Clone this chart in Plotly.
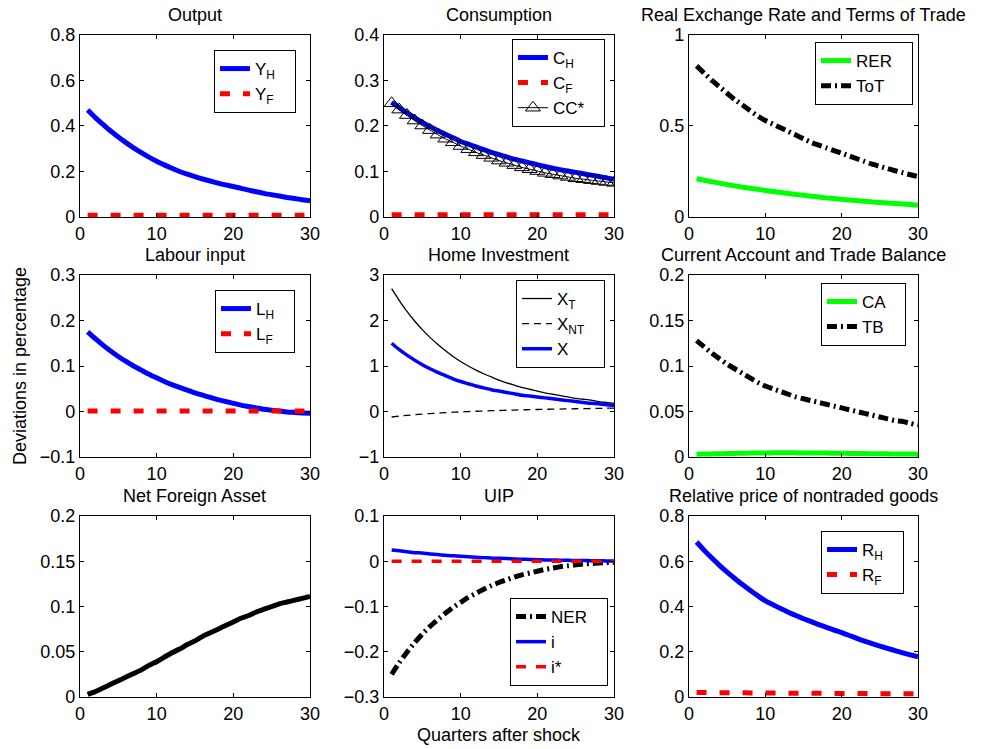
import plotly.graph_objects as go

quarters = list(range(1, 31))

# Output
y_home = [0.470, 0.437, 0.407, 0.378, 0.352, 0.327, 0.304, 0.283, 0.263, 0.245,
          0.229, 0.214, 0.200, 0.188, 0.177, 0.167, 0.158, 0.149, 0.141, 0.134,
          0.126, 0.118, 0.111, 0.104, 0.098, 0.092, 0.086, 0.081, 0.076, 0.071]
y_foreign = [0.008] * 30

# Consumption
c_home = [0.252, 0.240, 0.229, 0.218, 0.208, 0.199, 0.190, 0.182, 0.174, 0.166,
          0.160, 0.154, 0.148, 0.142, 0.137, 0.132, 0.127, 0.123, 0.119, 0.115,
          0.111, 0.107, 0.104, 0.101, 0.098, 0.095, 0.092, 0.089, 0.086, 0.083]
c_foreign = [0.005] * 30
cc_star = [0.250, 0.236, 0.224, 0.212, 0.201, 0.191, 0.181, 0.172, 0.164, 0.156,
           0.149, 0.142, 0.136, 0.130, 0.124, 0.119, 0.114, 0.109, 0.105, 0.101,
           0.097, 0.094, 0.091, 0.088, 0.085, 0.083, 0.081, 0.079, 0.077, 0.075]

# Real exchange rate and terms of trade
rer = [0.210, 0.202, 0.194, 0.186, 0.178, 0.171, 0.164, 0.158, 0.152, 0.146,
       0.140, 0.134, 0.129, 0.124, 0.119, 0.114, 0.110, 0.105, 0.101, 0.097,
       0.093, 0.090, 0.086, 0.083, 0.080, 0.077, 0.074, 0.071, 0.068, 0.065]
tot = [0.830, 0.790, 0.750, 0.715, 0.680, 0.645, 0.615, 0.585, 0.555, 0.530,
       0.510, 0.490, 0.470, 0.450, 0.430, 0.410, 0.395, 0.380, 0.365, 0.350,
       0.335, 0.320, 0.305, 0.290, 0.278, 0.266, 0.254, 0.243, 0.232, 0.222]

# Labour input
l_home = [0.175, 0.160, 0.146, 0.133, 0.121, 0.110, 0.100, 0.091, 0.082, 0.074,
          0.066, 0.059, 0.053, 0.047, 0.041, 0.036, 0.031, 0.026, 0.022, 0.018,
          0.014, 0.011, 0.008, 0.005, 0.003, 0.001, -0.001, -0.002, -0.003, -0.004]
l_foreign = [0.001] * 30

# Home investment
x_traded = [2.70, 2.44, 2.20, 1.99, 1.80, 1.63, 1.48, 1.34, 1.21, 1.10,
            1.00, 0.91, 0.83, 0.76, 0.69, 0.63, 0.58, 0.53, 0.49, 0.45,
            0.41, 0.38, 0.35, 0.32, 0.29, 0.27, 0.25, 0.22, 0.20, 0.18]
x_nontraded = [-0.120, -0.100, -0.085, -0.070, -0.055, -0.045, -0.035, -0.025, -0.015, -0.008,
               0.000, 0.006, 0.012, 0.018, 0.023, 0.028, 0.033, 0.037, 0.041, 0.045,
               0.049, 0.052, 0.055, 0.058, 0.061, 0.064, 0.067, 0.070, 0.073, 0.075]
x_total = [1.50, 1.36, 1.24, 1.13, 1.03, 0.94, 0.86, 0.79, 0.72, 0.66,
           0.61, 0.56, 0.52, 0.48, 0.45, 0.42, 0.39, 0.36, 0.34, 0.32,
           0.30, 0.28, 0.26, 0.24, 0.22, 0.20, 0.18, 0.17, 0.15, 0.14]

# Current account and trade balance
current_account = [0.0030, 0.0032, 0.0034, 0.0036, 0.0038, 0.0040, 0.0042, 0.0043, 0.0044, 0.0045,
                   0.0046, 0.0046, 0.0046, 0.0046, 0.0045, 0.0045, 0.0044, 0.0043, 0.0042, 0.0041,
                   0.0040, 0.0039, 0.0038, 0.0037, 0.0036, 0.0035, 0.0034, 0.0033, 0.0032, 0.0031]
trade_balance = [0.128, 0.121, 0.114, 0.108, 0.102, 0.097, 0.092, 0.087, 0.082, 0.078,
                 0.075, 0.072, 0.069, 0.066, 0.064, 0.062, 0.060, 0.058, 0.056, 0.054,
                 0.052, 0.050, 0.048, 0.046, 0.044, 0.042, 0.040, 0.039, 0.037, 0.035]

# Net foreign asset
nfa = [0.003, 0.006, 0.010, 0.014, 0.018, 0.022, 0.026, 0.030, 0.035, 0.039,
       0.044, 0.049, 0.053, 0.058, 0.062, 0.067, 0.071, 0.075, 0.079, 0.083,
       0.087, 0.090, 0.094, 0.097, 0.100, 0.103, 0.105, 0.107, 0.109, 0.111]

# UIP
ner = [-0.250, -0.224, -0.201, -0.180, -0.161, -0.144, -0.129, -0.115, -0.102, -0.091,
       -0.080, -0.071, -0.062, -0.054, -0.047, -0.041, -0.035, -0.030, -0.026, -0.022,
       -0.018, -0.015, -0.012, -0.010, -0.008, -0.006, -0.005, -0.004, -0.003, -0.002]
i_home = [0.025, 0.023, 0.021, 0.019, 0.018, 0.016, 0.015, 0.013, 0.012, 0.011,
          0.010, 0.009, 0.008, 0.007, 0.0065, 0.006, 0.005, 0.0045, 0.004, 0.0035,
          0.003, 0.0027, 0.0024, 0.002, 0.0018, 0.0015, 0.0013, 0.001, 0.0008, 0.0006]
i_foreign = [0.0] * 30

# Relative price of nontraded goods
r_home = [0.685, 0.648, 0.614, 0.582, 0.552, 0.524, 0.497, 0.472, 0.448, 0.425,
          0.408, 0.391, 0.375, 0.360, 0.346, 0.333, 0.320, 0.308, 0.296, 0.285,
          0.272, 0.259, 0.247, 0.236, 0.225, 0.215, 0.205, 0.195, 0.186, 0.178]
r_foreign = [0.020, 0.020, 0.020, 0.019, 0.019, 0.019, 0.019, 0.018, 0.018, 0.018,
             0.018, 0.018, 0.017, 0.017, 0.017, 0.017, 0.017, 0.016, 0.016, 0.016,
             0.016, 0.016, 0.016, 0.015, 0.015, 0.015, 0.015, 0.015, 0.015, 0.015]

BLUE, RED, GREEN, BLACK = "#0000ff", "#ff0000", "#00ff00", "#000000"
FONT = "Liberation Sans, Arial, Helvetica, sans-serif"
FS = 18
LEG_FS = 17
PAD = "&nbsp;&nbsp;&nbsp;"
RED_DASH = "10px,13px"
DASH_DOT = "10px,4px,2px,4px"

X_DOMAINS = [[0.0815, 0.3160], [0.3914, 0.6259], [0.7023, 0.9358]]
Y_DOMAINS = [[0.7103, 0.9533], [0.3898, 0.6328], [0.0694, 0.3111]]

# title, y range, y tick step, legend placement (x, y, yanchor)
PANELS = [
    ("Output", [0, 0.8], 0.2, (0.3017, 0.9332, "top")),
    ("Consumption", [0, 0.4], 0.1, (0.6167, 0.9480, "top")),
    ("Real Exchange Rate and Terms of Trade", [0, 1], 0.5, (0.9307, 0.9439, "top")),
    ("Labour input", [-0.1, 0.3], 0.1, (0.3007, 0.6128, "top")),
    ("Home Investment", [-1, 3], 1, (0.6167, 0.6262, "top")),
    ("Current Account and Trade Balance", [0, 0.2], 0.05, (0.9235, 0.6222, "top")),
    ("Net Foreign Asset", [0, 0.2], 0.05, None),
    ("UIP", [-0.3, 0.1], 0.1, (0.6198, 0.0841, "bottom")),
    ("Relative price of nontraded goods", [0, 0.8], 0.2, (0.9215, 0.2911, "top")),
]

fig = go.Figure()


def add_line(panel, name, values, color, width, dash="solid", marker=None):
    k = panel + 1
    has_legend = PANELS[panel][3] is not None
    fig.add_trace(go.Scatter(
        x=quarters, y=values, name=name + PAD,
        mode="lines+markers" if marker else "lines",
        line=dict(color=color, width=width, dash=dash, shape="spline",
                  smoothing=0.6, simplify=False),
        marker=marker,
        xaxis=f"x{k}", yaxis=f"y{k}",
        legend=("legend" if k == 1 or not has_legend else f"legend{k}"),
        showlegend=has_legend,
    ))


add_line(0, "Y<sub>H</sub>", y_home, BLUE, 5)
add_line(0, "Y<sub>F</sub>", y_foreign, RED, 5, RED_DASH)

add_line(1, "C<sub>H</sub>", c_home, BLUE, 5)
add_line(1, "C<sub>F</sub>", c_foreign, RED, 5, RED_DASH)
add_line(1, "CC*", cc_star, BLACK, 1,
         marker=dict(symbol="triangle-up-open", size=13, color=BLACK, line=dict(width=1)))

add_line(2, "RER", rer, GREEN, 5)
add_line(2, "ToT", tot, BLACK, 5, DASH_DOT)

add_line(3, "L<sub>H</sub>", l_home, BLUE, 5)
add_line(3, "L<sub>F</sub>", l_foreign, RED, 5, RED_DASH)

add_line(4, "X<sub>T</sub>", x_traded, BLACK, 1.3)
add_line(4, "X<sub>NT</sub>", x_nontraded, BLACK, 1.3, "7px,5px")
add_line(4, "X", x_total, BLUE, 3.5)

add_line(5, "CA", current_account, GREEN, 5)
add_line(5, "TB", trade_balance, BLACK, 5, DASH_DOT)

add_line(6, "NFA", nfa, BLACK, 5)

add_line(7, "NER", ner, BLACK, 5, DASH_DOT)
add_line(7, "i", i_home, BLUE, 3.5)
add_line(7, "i*", i_foreign, RED, 3.5, "10px,10px")

add_line(8, "R<sub>H</sub>", r_home, BLUE, 5)
add_line(8, "R<sub>F</sub>", r_foreign, RED, 5, RED_DASH)

layout = {}
annotations = []
for p, (title, yrange, ystep, leg) in enumerate(PANELS):
    k = p + 1
    row, col = divmod(p, 3)
    axis_style = dict(
        showline=True, linecolor=BLACK, linewidth=1, mirror="allticks",
        ticks="inside", ticklen=4, tickcolor=BLACK, showgrid=False, zeroline=False,
        automargin=False, tickfont=dict(size=FS, color=BLACK, family=FONT),
    )
    layout[f"xaxis{k}"] = dict(axis_style, domain=X_DOMAINS[col], range=[0, 30],
                               dtick=10, tick0=0, anchor=f"y{k}")
    layout[f"yaxis{k}"] = dict(axis_style, domain=Y_DOMAINS[row], range=yrange,
                               dtick=ystep, tick0=0, anchor=f"x{k}")
    annotations.append(dict(
        text=title, xref="paper", yref="paper",
        x=sum(X_DOMAINS[col]) / 2, y=Y_DOMAINS[row][1],
        xanchor="center", yanchor="bottom", yshift=8, showarrow=False,
        font=dict(size=FS, color=BLACK, family=FONT),
    ))
    if leg is not None:
        lx, ly, yanchor = leg
        layout["legend" if k == 1 else f"legend{k}"] = dict(
            x=lx, y=ly, xanchor="right", yanchor=yanchor,
            bgcolor="white", bordercolor=BLACK, borderwidth=1,
            font=dict(size=LEG_FS, color=BLACK, family=FONT),
            itemwidth=30, tracegroupgap=0,
        )

annotations.append(dict(
    text="Deviations in percentage", xref="paper", yref="paper",
    x=20 / 981, y=sum(Y_DOMAINS[1]) / 2, textangle=-90,
    xanchor="center", yanchor="middle", showarrow=False,
    font=dict(size=FS, color=BLACK, family=FONT),
))
annotations.append(dict(
    text="Quarters after shock", xref="paper", yref="paper",
    x=sum(X_DOMAINS[1]) / 2, y=1 - 735 / 749,
    xanchor="center", yanchor="middle", showarrow=False,
    font=dict(size=FS, color=BLACK, family=FONT),
))

fig.update_layout(
    **layout,
    annotations=annotations,
    showlegend=True,
    width=981, height=749,
    margin=dict(l=0, r=0, t=0, b=0, autoexpand=False),
    paper_bgcolor="white", plot_bgcolor="white",
    font=dict(family=FONT, color=BLACK),
)

fig.write_html(
    "out.html",
    config={"displayModeBar": False},
    post_script="document.body.style.margin = '0px';",
)
